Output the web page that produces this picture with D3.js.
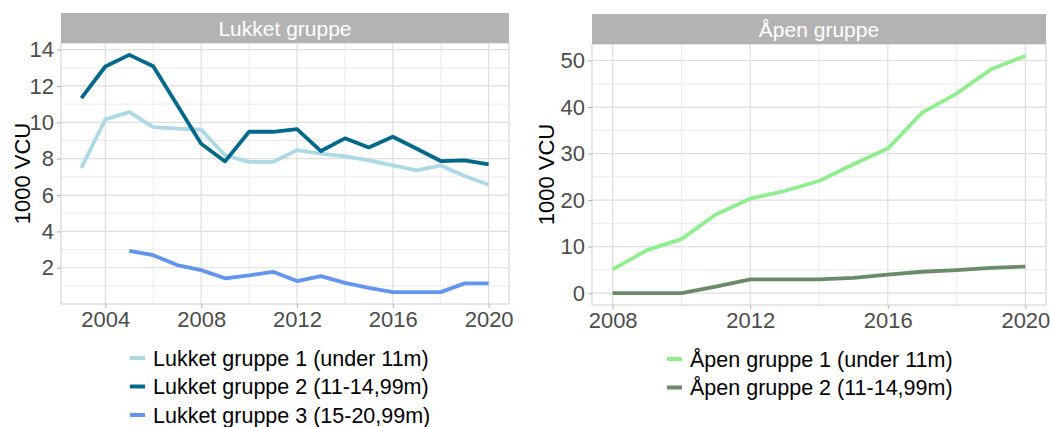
<!DOCTYPE html>
<html>
<head>
<meta charset="utf-8">
<script src="https://cdn.jsdelivr.net/npm/d3@7"></script>
<style>
  html, body { margin: 0; padding: 0; background: #ffffff; }
  svg { display: block; font-family: "Liberation Sans", Arial, sans-serif; }
</style>
</head>
<body>
<svg id="chart" width="1050" height="427"></svg>
<script>
// Years
const yearsClosed = [2003, 2004, 2005, 2006, 2007, 2008, 2009, 2010, 2011, 2012, 2013, 2014, 2015, 2016, 2017, 2018, 2019, 2020];
const yearsClosed3 = [2005, 2006, 2007, 2008, 2009, 2010, 2011, 2012, 2013, 2014, 2015, 2016, 2017, 2018, 2019, 2020];
const yearsOpen = [2008, 2009, 2010, 2011, 2012, 2013, 2014, 2015, 2016, 2017, 2018, 2019, 2020];

// Catch value, 1000 VCU
const lukket1 = [7.49, 10.16, 10.56, 9.74, 9.65, 9.59, 8.18, 7.82, 7.82, 8.47, 8.28, 8.13, 7.91, 7.63, 7.36, 7.63, 7.05, 6.57];
const lukket2 = [11.33, 13.07, 13.71, 13.08, 10.95, 8.82, 7.85, 9.48, 9.48, 9.63, 8.42, 9.12, 8.62, 9.21, 8.55, 7.87, 7.91, 7.69];
const lukket3 = [2.93, 2.69, 2.15, 1.87, 1.42, 1.58, 1.78, 1.27, 1.54, 1.17, 0.90, 0.66, 0.66, 0.66, 1.14, 1.14];
const apen1 = [5.1, 9.25, 11.6, 16.9, 20.3, 21.95, 24.1, 27.7, 31.07, 38.8, 42.9, 48.1, 51.0];
const apen2 = [0, 0, 0, 1.4, 2.95, 2.95, 2.95, 3.3, 4.0, 4.6, 4.95, 5.45, 5.7];

// Axis breaks
const closedXTicks = [2004, 2008, 2012, 2016, 2020];
const closedXMinor = [2006, 2010, 2014, 2018];
const closedYTicks = [2, 4, 6, 8, 10, 12, 14];
const closedYMinor = [1, 3, 5, 7, 9, 11, 13];
const openXTicks = [2008, 2012, 2016, 2020];
const openXMinor = [2010, 2014, 2018];
const openYTicks = [0, 10, 20, 30, 40, 50];
const openYMinor = [5, 15, 25, 35, 45];

// Labels
const closedTitle = "Lukket gruppe";
const openTitle = "Åpen gruppe";
const closedNames = ["Lukket gruppe 1 (under 11m)", "Lukket gruppe 2 (11-14,99m)", "Lukket gruppe 3 (15-20,99m)"];
const openNames = ["Åpen gruppe 1 (under 11m)", "Åpen gruppe 2 (11-14,99m)"];
const yTitle = "1000 VCU";

const closedColors = ["#add8e6", "#00688b", "#6495ed"];
const openColors = ["#90ee90", "#698b69"];

const svg = d3.select("#chart");

function expand(lo, hi) {
  const pad = (hi - lo) * 0.05;
  return [lo - pad, hi + pad];
}

function panel(opts) {
  const { left, right, top, bottom, stripTop, title, series, xTicks, xMinor, yTicks, yMinor, yTitleX } = opts;
  const allX = series.flatMap(s => s.x);
  const allY = series.flatMap(s => s.y);
  const x = d3.scaleLinear().domain(expand(d3.min(allX), d3.max(allX))).range([left, right]);
  const y = d3.scaleLinear().domain(expand(d3.min(allY), d3.max(allY))).range([bottom, top]);

  const g = svg.append("g");

  // minor grid
  g.append("g").selectAll("line").data(yMinor).join("line")
    .attr("x1", left).attr("x2", right)
    .attr("y1", d => y(d)).attr("y2", d => y(d))
    .attr("stroke", "#ececec").attr("stroke-width", 1);
  g.append("g").selectAll("line").data(xMinor).join("line")
    .attr("y1", top).attr("y2", bottom)
    .attr("x1", d => x(d)).attr("x2", d => x(d))
    .attr("stroke", "#ececec").attr("stroke-width", 1);
  // major grid
  g.append("g").selectAll("line").data(yTicks).join("line")
    .attr("x1", left).attr("x2", right)
    .attr("y1", d => y(d)).attr("y2", d => y(d))
    .attr("stroke", "#dedede").attr("stroke-width", 1.2);
  g.append("g").selectAll("line").data(xTicks).join("line")
    .attr("y1", top).attr("y2", bottom)
    .attr("x1", d => x(d)).attr("x2", d => x(d))
    .attr("stroke", "#dedede").attr("stroke-width", 1.2);

  // panel border
  g.append("rect")
    .attr("x", left).attr("y", top)
    .attr("width", right - left).attr("height", bottom - top)
    .attr("fill", "none").attr("stroke", "#cfcfcf").attr("stroke-width", 1);

  // strip
  g.append("rect")
    .attr("x", left).attr("y", stripTop)
    .attr("width", right - left).attr("height", top - stripTop)
    .attr("fill", "#b3b3b3");
  g.append("text")
    .attr("x", (left + right) / 2).attr("y", (stripTop + top) / 2)
    .attr("dy", "0.36em").attr("text-anchor", "middle")
    .attr("fill", "#ffffff").attr("font-size", 21)
    .text(title);

  // axes
  const xAxis = d3.axisBottom(x).tickValues(xTicks).tickFormat(d3.format("d")).tickSize(4).tickPadding(3);
  const gx = g.append("g").attr("transform", `translate(0,${bottom})`).call(xAxis);
  const yAxis = d3.axisLeft(y).tickValues(yTicks).tickFormat(d3.format("d")).tickSize(4).tickPadding(3);
  const gy = g.append("g").attr("transform", `translate(${left},0)`).call(yAxis);
  [gx, gy].forEach(a => {
    a.select(".domain").remove();
    a.selectAll(".tick line").attr("stroke", "#b3b3b3");
    a.selectAll(".tick text").attr("fill", "#4d4d4d").attr("font-size", 22)
      .attr("font-family", "'Liberation Sans', Arial, sans-serif");
  });

  g.append("text")
    .attr("transform", `translate(${yTitleX},${(top + bottom) / 2}) rotate(-90)`)
    .attr("text-anchor", "middle").attr("dy", "0.36em")
    .attr("fill", "#000000").attr("font-size", 22)
    .text(yTitle);

  // lines
  const line = d3.line().x(d => x(d[0])).y(d => y(d[1]));
  series.forEach(s => {
    g.append("path")
      .datum(d3.zip(s.x, s.y))
      .attr("d", line)
      .attr("fill", "none")
      .attr("stroke", s.color)
      .attr("stroke-width", 3.8)
      .attr("stroke-linejoin", "round");
  });
}

function legend(x0, y0, names, colors) {
  const g = svg.append("g");
  names.forEach((n, i) => {
    const yy = y0 + i * 28.5;
    g.append("line")
      .attr("x1", x0).attr("x2", x0 + 15)
      .attr("y1", yy).attr("y2", yy)
      .attr("stroke", colors[i]).attr("stroke-width", 4);
    g.append("text")
      .attr("x", x0 + 23).attr("y", yy)
      .attr("dy", "0.36em")
      .attr("fill", "#000000").attr("font-size", 21.5)
      .text(n);
  });
}

panel({
  left: 61, right: 509, top: 43, bottom: 304, stripTop: 13,
  title: closedTitle,
  series: [
    { x: yearsClosed, y: lukket1, color: closedColors[0] },
    { x: yearsClosed, y: lukket2, color: closedColors[1] },
    { x: yearsClosed3, y: lukket3, color: closedColors[2] }
  ],
  xTicks: closedXTicks, xMinor: closedXMinor,
  yTicks: closedYTicks, yMinor: closedYMinor,
  yTitleX: 22
});

panel({
  left: 592, right: 1046, top: 44, bottom: 305, stripTop: 14,
  title: openTitle,
  series: [
    { x: yearsOpen, y: apen1, color: openColors[0] },
    { x: yearsOpen, y: apen2, color: openColors[1] }
  ],
  xTicks: openXTicks, xMinor: openXMinor,
  yTicks: openYTicks, yMinor: openYMinor,
  yTitleX: 546
});

legend(130, 358, closedNames, closedColors);
legend(667, 359, openNames, openColors);
</script>
</body>
</html>
